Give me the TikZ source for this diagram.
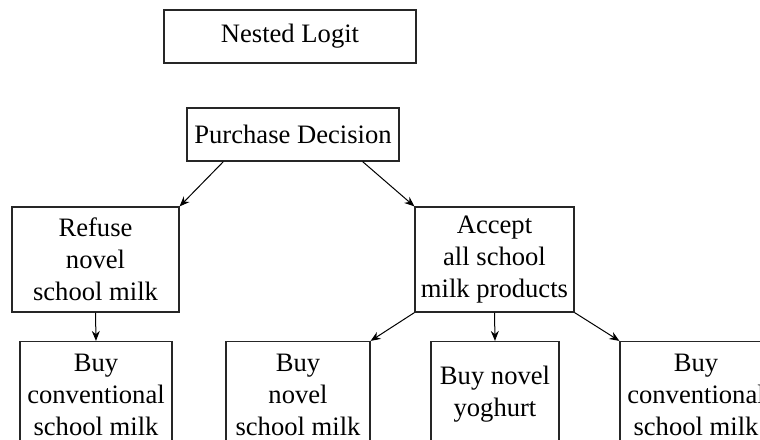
\documentclass[tikz,border=0pt]{standalone}
\usepackage{fontspec}
\setmainfont{Liberation Serif}
\usetikzlibrary{arrows.meta,calc}
\begin{document}
\begin{tikzpicture}[x=0.5pt,y=-0.5pt,
  box/.style={draw=black!85,line width=0.6pt,rectangle,align=center,inner sep=0pt,
    font=\fontsize{13.3}{16}\selectfont},
  conn/.style={line width=0.5pt,-{Stealth[length=5pt,width=4pt]}}]
\useasboundingbox (0,0) rectangle (760,439);
\clip (0,0) rectangle (760,439);
\node[box,minimum width=126pt,minimum height=26.5pt] (nl) at (290,36.5) {Nested Logit};
\node[box,minimum width=106pt,minimum height=26.5pt] (pd) at (293,134.5) {Purchase Decision};
\node[box,minimum width=83.5pt,minimum height=52.5pt] (ref) at (95.5,259.5) {Refuse\\novel\\school milk};
\node[box,minimum width=79.5pt,minimum height=52.5pt] (acc) at (494.5,259.5) {Accept\\all school\\milk products};
\node[box,minimum width=76pt,minimum height=53pt] (bcl) at (96,394.5) {Buy\\conventional\\school milk};
\node[box,minimum width=72pt,minimum height=53pt] (bn) at (298,394.5) {Buy\\novel\\school milk};
\node[box,minimum width=64pt,minimum height=53pt] (yog) at (495,394.5) {Buy novel\\yoghurt};
\node[box,minimum width=76pt,minimum height=53pt] (bcr) at (696,394.5) {Buy\\conventional\\school milk};
\draw[conn] ([xshift=18.5pt]pd.south west) -- (ref.north east);
\draw[conn] ([xshift=-18.5pt]pd.south east) -- (acc.north west);
\draw[conn] (ref.south) -- (bcl.north);
\draw[conn] (acc.south west) -- (bn.north east);
\draw[conn] (acc.south) -- (yog.north);
\draw[conn] (acc.south east) -- (bcr.north west);
\end{tikzpicture}
\end{document}
